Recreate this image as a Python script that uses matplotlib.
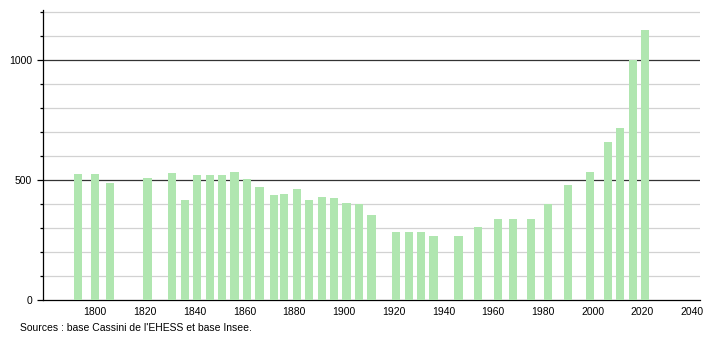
import matplotlib
matplotlib.use('Agg')
import matplotlib.pyplot as plt
from matplotlib.ticker import MultipleLocator

plt.rcParams['font.family'] = ['Liberation Sans', 'DejaVu Sans']

# census years and population
years = [1793, 1800, 1806, 1821, 1831, 1836, 1841, 1846, 1851, 1856, 1861,
         1866, 1872, 1876, 1881, 1886, 1891, 1896, 1901, 1906, 1911, 1921,
         1926, 1931, 1936, 1946, 1954, 1962, 1968, 1975, 1982, 1990, 1999,
         2006, 2011, 2016, 2021]
population = [525, 525, 487, 511, 529, 419, 521, 521, 521, 536, 503,
              470, 437, 442, 465, 417, 429, 425, 404, 400, 353, 283,
              283, 283, 269, 269, 303, 336, 340, 340, 399, 478, 536,
              661, 717, 1003, 1128]
x_ticks = [1800, 1820, 1840, 1860, 1880, 1900, 1920, 1940, 1960, 1980, 2000, 2020, 2040]
y_ticks = [0, 500, 1000]
source = "Sources : base Cassini de l'EHESS et base Insee."

fig = plt.figure(figsize=(7.1, 3.4), dpi=100)
ax = fig.add_axes([0.0606, 0.1176, 0.925, 0.853])

ax.bar(years, population, width=3.3, color='#b0e6b0', zorder=3)

ax.set_xlim(1779, 2043)
ax.set_ylim(0, 1210)

# grid: light every 100, dark at 500s
for v in range(100, 1201, 100):
    if v % 500 == 0:
        ax.axhline(v, color='#333333', lw=0.9, zorder=1)
    else:
        ax.axhline(v, color='#d2d2d2', lw=0.9, zorder=1)

ax.set_yticks(y_ticks)
ax.yaxis.set_minor_locator(MultipleLocator(100))
ax.set_xticks(x_ticks)
ax.tick_params(axis='x', length=0, labelsize=7.5, pad=5)
ax.tick_params(axis='y', which='major', length=4, width=0.9, labelsize=7.5, pad=4)
ax.tick_params(axis='y', which='minor', length=2, width=0.9)

for s in ['top', 'right']:
    ax.spines[s].set_visible(False)
ax.spines['left'].set_linewidth(0.9)
ax.spines['bottom'].set_linewidth(0.9)

fig.text(20 / 710, 1 - 328 / 340, source, fontsize=7.5, va='center', ha='left')

fig.savefig('out.png', dpi=100)
